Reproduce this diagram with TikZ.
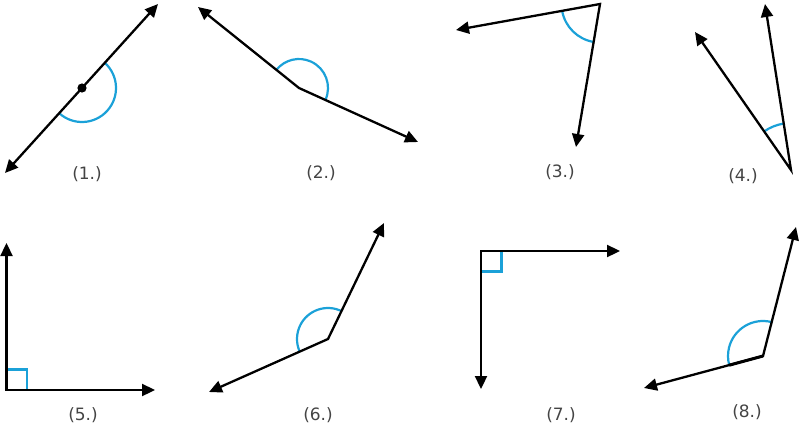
\documentclass[tikz,border=0pt]{standalone}
\usepackage{fontspec}
\setmainfont{DejaVu Sans}
\usetikzlibrary{arrows.meta}
\definecolor{arcblue}{HTML}{1BA1D8}
\definecolor{labelgray}{HTML}{444444}
\begin{document}
\begin{tikzpicture}[x=1bp,y=1bp,
  armpair/.style={line width=2.3bp, {Triangle[length=13bp,width=12bp]}-{Triangle[length=13bp,width=12bp]}},
  ang/.style={arcblue, line width=2.2bp},
  sq/.style={arcblue, line width=2.2bp},
  lbl/.style={font=\fontsize{17bp}{20bp}\selectfont, text=labelgray, inner sep=0pt}]
\useasboundingbox (0,0) rectangle (800,428);

% ---------- (1.) straight angle ----------
\coordinate (v1) at (82,340);
\coordinate (t1a) at (5,255);
\coordinate (t1b) at (158,424);
\draw[ang] ([shift={(47.85:34)}]v1) arc[start angle=47.85, end angle=-132.15, radius=34];
\draw[armpair] (t1a) -- (v1) -- (t1b);
\fill (v1) circle (4.6);
\node[lbl] (l1) at (87,254) {(1.)};

% ---------- (2.) ----------
\coordinate (v2) at (299,340);
\coordinate (t2a) at (198,421);
\coordinate (t2b) at (418,286);
\draw[ang] ([shift={(-24.4:29)}]v2) arc[start angle=-24.4, end angle=141.3, radius=29];
\draw[armpair] (t2a) -- (v2) -- (t2b);
\node[lbl] (l2) at (321,255) {(2.)};

% ---------- (3.) ----------
\coordinate (v3) at (600,424);
\coordinate (t3a) at (456,398);
\coordinate (t3b) at (576,281);
\draw[ang] ([shift={(190.5:38.5)}]v3) arc[start angle=190.5, end angle=260.2, radius=38.5];
\draw[armpair] (t3a) -- (v3) -- (t3b);
\node[lbl] (l3) at (560,256) {(3.)};

% ---------- (4.) ----------
\coordinate (v4) at (791,258);
\coordinate (t4a) at (765,424);
\coordinate (t4b) at (695,396);
\draw[ang] ([shift={(99.1:47)}]v4) arc[start angle=99.1, end angle=124.7, radius=47];
\draw[armpair] (t4a) -- (v4) -- (t4b);
\node[lbl] (l4) at (743,252) {(4.)};

% ---------- (5.) right angle ----------
\coordinate (v5) at (6.5,38);
\coordinate (t5a) at (6.5,185);
\coordinate (t5b) at (155,38);
\draw[sq] (v5) rectangle ++(20.5,20.5);
\draw[armpair] (t5a) -- (v5) -- (t5b);
\node[lbl] (l5) at (83,13) {(5.)};

% ---------- (6.) ----------
\coordinate (v6) at (328,89);
\coordinate (t6a) at (384,205);
\coordinate (t6b) at (209,36);
\draw[ang] ([shift={(64:31)}]v6) arc[start angle=64, end angle=204.2, radius=31];
\draw[armpair] (t6a) -- (v6) -- (t6b);
\node[lbl] (l6) at (318,13) {(6.)};

% ---------- (7.) right angle ----------
\coordinate (v7) at (481,177);
\coordinate (t7a) at (620,177);
\coordinate (t7b) at (481,39);
\draw[sq] (v7) rectangle ++(20.5,-20.5);
\draw[armpair] (t7a) -- (v7) -- (t7b);
\node[lbl] (l7) at (561,13) {(7.)};

% ---------- (8.) ----------
\coordinate (v8) at (763,72);
\coordinate (t8a) at (796,201);
\coordinate (t8b) at (644,40);
\draw[ang] ([shift={(76:35)}]v8) arc[start angle=76, end angle=195.2, radius=35];
\draw[armpair] (t8a) -- (v8) -- (t8b);
\draw[line width=3bp] (v8) -- ([shift={(195.2:35)}]v8);
\node[lbl] (l8) at (747,16) {(8.)};
\end{tikzpicture}
\end{document}
